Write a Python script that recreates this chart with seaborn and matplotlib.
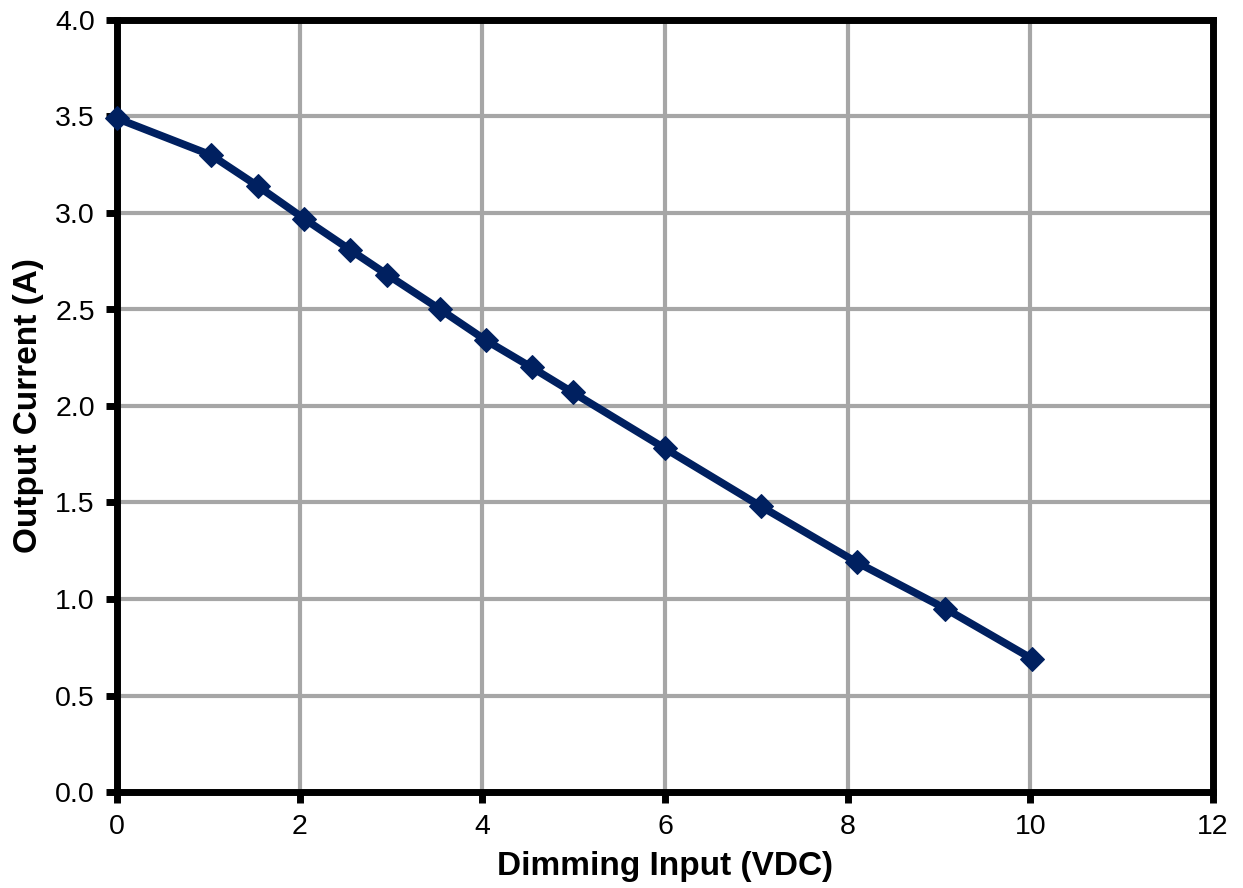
import matplotlib
matplotlib.use("Agg")
import matplotlib.pyplot as plt
import seaborn as sns
import pandas as pd

dimming_input = [0.0, 1.03, 1.54, 2.05, 2.55, 2.96, 3.54, 4.04, 4.54, 4.99, 6.0, 7.05, 8.10, 9.07, 10.02]
output_current = [3.49, 3.30, 3.14, 2.97, 2.81, 2.68, 2.50, 2.34, 2.20, 2.07, 1.78, 1.48, 1.19, 0.95, 0.69]
x_ticks = [0, 2, 4, 6, 8, 10, 12]
y_ticks = [0.0, 0.5, 1.0, 1.5, 2.0, 2.5, 3.0, 3.5, 4.0]

sns.set_theme(style="white")
plt.rcParams['font.family'] = ['Liberation Sans', 'DejaVu Sans']
plt.rcParams['xtick.bottom'] = True
plt.rcParams['ytick.left'] = True

df = pd.DataFrame({"x": dimming_input, "y": output_current})

fig = plt.figure(figsize=(12.43, 8.88), dpi=100)
ax = fig.add_axes([117/1243, 1-792/888, (1213-117)/1243, (792-20)/888])

sns.lineplot(data=df, x="x", y="y", ax=ax, color="#002060", linewidth=5.5,
             marker="D", markersize=12, markeredgecolor="#002060", clip_on=False, zorder=5)

ax.set_xlim(0, 12)
ax.set_ylim(0, 4.0)
ax.set_xticks(x_ticks)
ax.set_yticks(y_ticks)
ax.set_xticklabels([str(t) for t in x_ticks], fontsize=20.5, color="black")
ax.set_yticklabels([f"{t:.1f}" for t in y_ticks], fontsize=20.5, color="black")
ax.grid(True, color="#a6a6a6", linewidth=3)
ax.set_axisbelow(True)
for s in ax.spines.values():
    s.set_color("black")
    s.set_linewidth(5)
    s.set_visible(True)
ax.tick_params(axis="both", which="major", bottom=True, left=True, direction="out",
               length=8, width=5, color="black", pad=8)
ax.set_xlabel("Dimming Input (VDC)", fontsize=24, fontweight="bold", color="black", labelpad=8)
ax.set_ylabel("Output Current (A)", fontsize=24, fontweight="bold", color="black", labelpad=8)

fig.savefig("out.png", dpi=100)
